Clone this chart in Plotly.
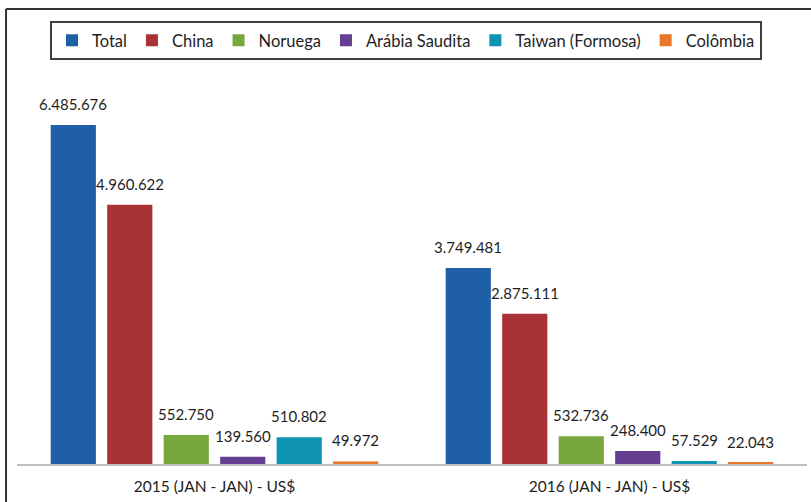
import plotly.graph_objects as go

# Export values (US$), January of each year
periods = ["2015 (JAN - JAN) - US$", "2016 (JAN - JAN) - US$"]
series_names = ["Total", "China", "Noruega", "Arábia Saudita", "Taiwan (Formosa)", "Colômbia"]
total = [6485676, 3749481]
china = [4960622, 2875111]
noruega = [552750, 532736]
arabia = [139560, 248400]
taiwan = [510802, 57529]
colombia = [49972, 22043]

colors = ["#1F5FA5", "#A83236", "#78A73E", "#653F92", "#0E93B3", "#E8762B"]
series_values = [total, china, noruega, arabia, taiwan, colombia]

FONT = "Lato"
TEXT = "#1E1E1E"
BARGAP = 0.142
BARGROUPGAP = 0.2


def fmt(v):
    return f"{v:,}".replace(",", ".")


fig = go.Figure()
for name, vals, col in zip(series_names, series_values, colors):
    fig.add_trace(go.Bar(
        name=name, x=periods, y=vals, marker=dict(color=col, line=dict(width=0)),
        hoverinfo="name+y",
    ))

# value labels above each bar, placed at the centre of its slot in the group
n = len(series_names)
slot = (1 - BARGAP) / n
for k, vals in enumerate(series_values):
    for i, v in enumerate(vals):
        xc = i - (1 - BARGAP) / 2 + (k + 0.5) * slot
        fig.add_annotation(
            x=xc, y=v, xref="x", yref="y", text=fmt(v), showarrow=False,
            yanchor="bottom", yshift=10, font=dict(family=FONT, size=15, color=TEXT),
        )

# frame lines around the chart
fig.add_shape(type="line", xref="paper", yref="paper", x0=-0.0139, x1=1.02, y0=1.155, y1=1.155,
              line=dict(color="#333333", width=2))
fig.add_shape(type="line", xref="paper", yref="paper", x0=-0.0139, x1=-0.0139, y0=1.155, y1=-0.2,
              line=dict(color="#333333", width=2))

fig.update_layout(
    width=811, height=502,
    margin=dict(l=17, r=4, t=70, b=38),
    paper_bgcolor="white", plot_bgcolor="white",
    barmode="group", bargap=BARGAP, bargroupgap=BARGROUPGAP,
    font=dict(family=FONT, color=TEXT),
    showlegend=True,
    legend=dict(
        orientation="h", x=0.4924, xanchor="center", y=1.124, yanchor="top",
        font=dict(family=FONT, size=16.5, color=TEXT),
        bordercolor="#404040", borderwidth=2, bgcolor="white",
        itemwidth=30, traceorder="normal",
    ),
    xaxis=dict(
        type="category", showline=True, linecolor="#BFBFBF", linewidth=2,
        ticks="", showgrid=False, ticklabelstandoff=7,
        tickfont=dict(family=FONT, size=15.5, color=TEXT),
    ),
    yaxis=dict(range=[0, 7540000], visible=False, showgrid=False),
)

fig.write_html("out.html")
